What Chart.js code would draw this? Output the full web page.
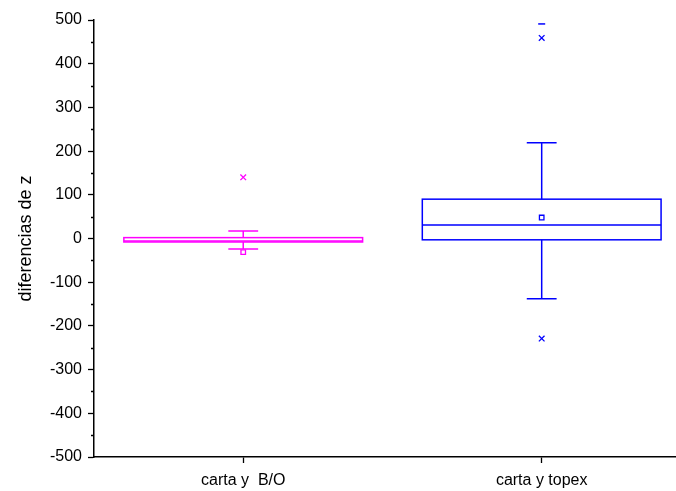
<!DOCTYPE html>
<html>
<head>
<meta charset="utf-8">
<script src="https://cdn.jsdelivr.net/npm/chart.js@4"></script>
<style>
  html, body { margin: 0; padding: 0; background: #fff; overflow: hidden; }
</style>
</head>
<body>
<canvas id="grafica" width="676" height="491"></canvas>
<script>
// Datos (diagrama de caja)
const categorias = ['carta y  B/O', 'carta y topex'];
const colores = ['#ff00ff', '#0000ff'];
const q1 = [-8, -3];
const mediana = [-6, 31];
const q3 = [2, 90];
const bigoteInf = [-24, -138];
const bigoteSup = [17, 219];
const media = [-31, 48];
const percentiles = [[140], [459, -229]]; // marcas x (1% / 99%)
const extremos = [[], [491]];             // marcas - (min / max)
const yTicks = [-500, -400, -300, -200, -100, 0, 100, 200, 300, 400, 500];

Chart.defaults.font.family = 'Arial, "Liberation Sans", sans-serif';
Chart.defaults.color = '#000';

// datasets de puntos por categoria
const datasets = [];
categorias.forEach((c, i) => {
  datasets.push({
    label: c + ' 1%/99%',
    data: percentiles[i].map(v => ({ x: i + 1, y: v })),
    pointStyle: 'crossRot', pointRadius: 4, borderWidth: 1.3,
    borderColor: colores[i], backgroundColor: colores[i]
  });
  datasets.push({
    label: c + ' media',
    data: [{ x: i + 1, y: media[i] }],
    pointStyle: 'rect', pointRadius: 3.2, borderWidth: 1.3,
    borderColor: colores[i], backgroundColor: '#fff'
  });
  datasets.push({
    label: c + ' min/max',
    data: extremos[i].map(v => ({ x: i + 1, y: v })),
    pointStyle: 'line', pointRadius: 3.5, borderWidth: 1.5,
    borderColor: colores[i], backgroundColor: colores[i]
  });
});

// Plugin: cajas, medianas y bigotes usando las escalas
const cajas = {
  id: 'cajas',
  beforeDatasetsDraw(chart) {
    const ctx = chart.ctx, xs = chart.scales.x, ys = chart.scales.y;
    ctx.save();
    ctx.lineWidth = 1.5;
    categorias.forEach((c, i) => {
      const x0 = xs.getPixelForValue(i + 1 - 0.4), x1 = xs.getPixelForValue(i + 1 + 0.4);
      const xc = xs.getPixelForValue(i + 1);
      const c0 = xs.getPixelForValue(i + 1 - 0.05), c1 = xs.getPixelForValue(i + 1 + 0.05);
      const yq1 = ys.getPixelForValue(q1[i]), yq3 = ys.getPixelForValue(q3[i]);
      ctx.strokeStyle = colores[i];
      ctx.beginPath();
      // bigotes
      ctx.moveTo(xc, yq3); ctx.lineTo(xc, ys.getPixelForValue(bigoteSup[i]));
      ctx.moveTo(xc, yq1); ctx.lineTo(xc, ys.getPixelForValue(bigoteInf[i]));
      ctx.moveTo(c0, ys.getPixelForValue(bigoteSup[i])); ctx.lineTo(c1, ys.getPixelForValue(bigoteSup[i]));
      ctx.moveTo(c0, ys.getPixelForValue(bigoteInf[i])); ctx.lineTo(c1, ys.getPixelForValue(bigoteInf[i]));
      // mediana
      ctx.moveTo(x0, ys.getPixelForValue(mediana[i])); ctx.lineTo(x1, ys.getPixelForValue(mediana[i]));
      ctx.stroke();
      ctx.strokeRect(x0, yq3, x1 - x0, yq1 - yq3);
    });
    ctx.restore();
  },
  afterDraw(chart) {
    // marcas menores del eje y
    const ctx = chart.ctx, ys = chart.scales.y;
    ctx.save();
    ctx.strokeStyle = '#000'; ctx.lineWidth = 1.3;
    ctx.beginPath();
    for (let v = -450; v < 500; v += 100) {
      const y = Math.round(ys.getPixelForValue(v)) + 0.5;
      ctx.moveTo(ys.right - 3, y); ctx.lineTo(ys.right, y);
    }
    ctx.stroke();
    ctx.restore();
  }
};

new Chart(document.getElementById('grafica'), {
  type: 'scatter',
  data: { datasets },
  plugins: [cajas],
  options: {
    responsive: false,
    animation: false,
    layout: { autoPadding: false, padding: { top: 20, right: 0, left: 0, bottom: 0 } },
    plugins: { legend: { display: false }, tooltip: { enabled: false } },
    scales: {
      x: {
        type: 'linear', min: 0.5, max: 2.45,
        afterBuildTicks: ax => { ax.ticks = categorias.map((c, i) => ({ value: i + 1 })); },
        afterFit: ax => { ax.height = 34; ax.paddingRight = 0; ax.paddingLeft = 0; },
        ticks: { font: { size: 16 }, padding: 8, maxRotation: 0, callback: v => categorias[v - 1] },
        grid: { drawOnChartArea: false, tickLength: 6, tickWidth: 1.3, tickColor: '#000' },
        border: { color: '#000', width: 1.5 }
      },
      y: {
        min: -500, max: 500,
        afterBuildTicks: ax => { ax.ticks = yTicks.map(v => ({ value: v })); },
        afterFit: ax => { ax.width = 94; ax.paddingRight = 0; },
        ticks: { font: { size: 16 }, padding: 6 },
        grid: { drawOnChartArea: false, tickLength: 6, tickWidth: 1.3, tickColor: '#000' },
        border: { color: '#000', width: 1.5 },
        title: { display: true, text: 'diferencias de z', font: { size: 18 }, padding: { top: 15, bottom: 0 } }
      }
    }
  }
});
</script>
</body>
</html>
